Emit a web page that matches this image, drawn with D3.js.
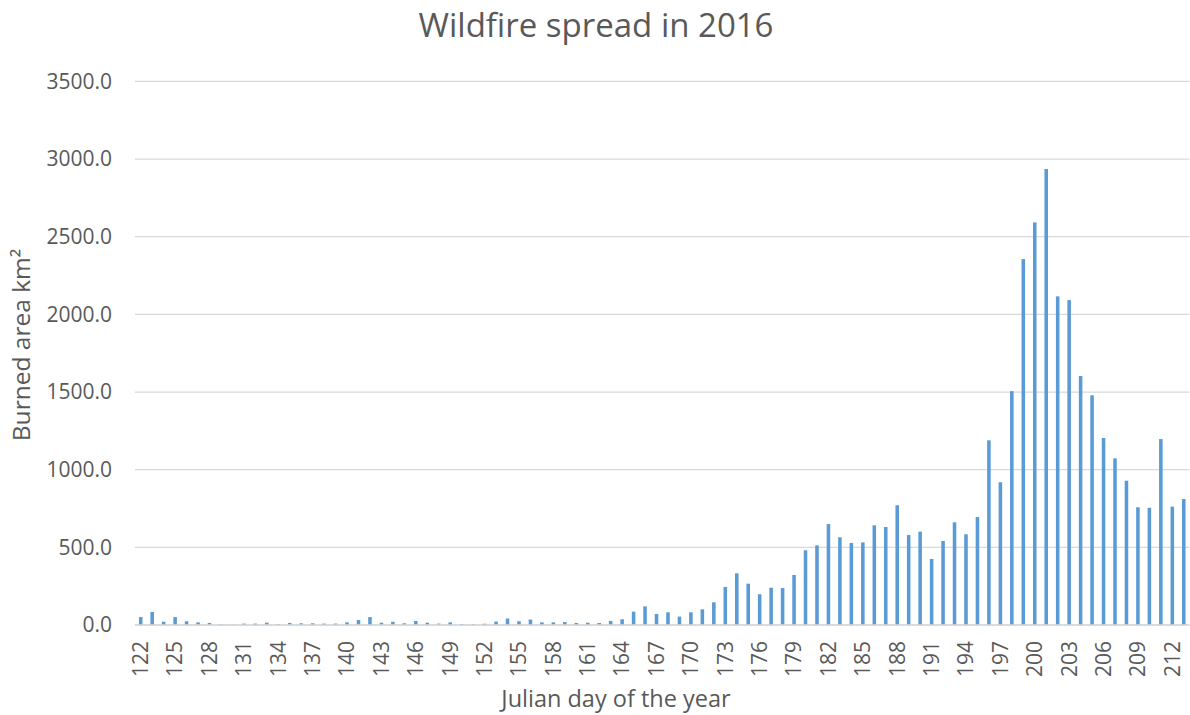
<!DOCTYPE html>
<html>
<head>
<meta charset="utf-8">
<script src="https://cdn.jsdelivr.net/npm/d3@7"></script>
<style>
  html, body { margin: 0; padding: 0; background: #fff; }
  svg { display: block; font-family: "Open Sans", "Noto Sans", sans-serif; }
</style>
</head>
<body>
<svg id="chart" width="1190" height="715"></svg>
<script>
// Julian days 122..213 of 2016
const days = d3.range(122, 214);

// Burned area per day (km²)
const burnedArea = [
  51, 84, 21, 51, 24, 17, 13, 4, 2, 9,          // 122-131
  9, 15, 6, 13, 11, 11, 9, 9, 17, 32,           // 132-141
  51, 15, 21, 11, 26, 15, 9, 17, 6, 5,          // 142-151
  8, 22, 42, 24, 35, 17, 17, 19, 13, 15,        // 152-161
  13, 26, 37, 86, 120, 71, 82, 54, 82, 101,     // 162-171
  146, 245, 333, 266, 198, 240, 238, 322, 481, 513, // 172-181
  650, 565, 528, 532, 642, 631, 771, 579, 601, 425, // 182-191
  541, 661, 584, 695, 1189, 919, 1506, 2356, 2592, 2936, // 192-201
  2116, 2092, 1603, 1479, 1204, 1073, 929, 758, 755, 1197, // 202-211
  762, 811                                       // 212-213
];

const yTicks = [0, 500, 1000, 1500, 2000, 2500, 3000, 3500];
const xTickDays = days.filter(d => (d - 122) % 3 === 0);

const titleText = "Wildfire spread in 2016";
const xTitle = "Julian day of the year";
const yTitle = "Burned area km²";

const svg = d3.select("#chart");
const textColor = "#595959";

const plot = { left: 135, right: 1189.5, top: 81.4, bottom: 625 };

const x = d3.scaleBand()
  .domain(days)
  .range([plot.left, plot.right])
  .paddingInner(0.69)
  .paddingOuter(0.345);

const y = d3.scaleLinear()
  .domain([0, 3500])
  .range([plot.bottom, plot.top]);

// Horizontal gridlines
svg.append("g")
  .selectAll("line")
  .data(yTicks)
  .join("line")
  .attr("x1", plot.left)
  .attr("x2", plot.right)
  .attr("y1", d => y(d))
  .attr("y2", d => y(d))
  .attr("stroke", "#d9d9d9")
  .attr("stroke-width", 1.3);

// Y axis labels
const yAxis = d3.axisLeft(y)
  .tickValues(yTicks)
  .tickFormat(d3.format(".1f"))
  .tickSize(0)
  .tickPadding(0);
const gy = svg.append("g")
  .attr("transform", `translate(112,0)`)
  .call(yAxis);
gy.select(".domain").remove();
gy.selectAll("text")
  .attr("fill", textColor)
  .style("font-size", "21px")
  .style("font-family", "\"Open Sans\", sans-serif");

// Bars
svg.append("g")
  .selectAll("rect")
  .data(days.map((d, i) => ({ day: d, value: burnedArea[i] })))
  .join("rect")
  .attr("x", d => x(d.day))
  .attr("width", x.bandwidth())
  .attr("y", d => y(d.value))
  .attr("height", d => y(0) - y(d.value))
  .attr("fill", "#5b9bd5");

// Baseline
svg.append("line")
  .attr("x1", plot.left)
  .attr("x2", plot.right)
  .attr("y1", y(0))
  .attr("y2", y(0))
  .attr("stroke", "#d9d9d9")
  .attr("stroke-width", 1.3);

// X axis labels, rotated
const xAxis = d3.axisBottom(x)
  .tickValues(xTickDays)
  .tickSize(0)
  .tickPadding(0);
const gx = svg.append("g")
  .attr("transform", `translate(0,${plot.bottom})`)
  .call(xAxis);
gx.select(".domain").remove();
gx.selectAll("text")
  .attr("fill", textColor)
  .style("font-size", "21px")
  .style("font-family", "\"Open Sans\", sans-serif")
  .attr("text-anchor", "end")
  .attr("transform", "translate(0,16) rotate(-90)")
  .attr("x", 0)
  .attr("y", 0)
  .attr("dy", "0.35em");

// Chart title
svg.append("text")
  .attr("x", 596)
  .attr("y", 37)
  .attr("text-anchor", "middle")
  .attr("fill", textColor)
  .style("font-size", "33px")
  .text(titleText);

// X axis title
svg.append("text")
  .attr("x", 616)
  .attr("y", 707)
  .attr("text-anchor", "middle")
  .attr("fill", textColor)
  .style("font-size", "23.5px")
  .text(xTitle);

// Y axis title
svg.append("text")
  .attr("transform", "translate(30,345) rotate(-90)")
  .attr("text-anchor", "middle")
  .attr("fill", textColor)
  .style("font-size", "24.5px")
  .text(yTitle);
</script>
</body>
</html>
